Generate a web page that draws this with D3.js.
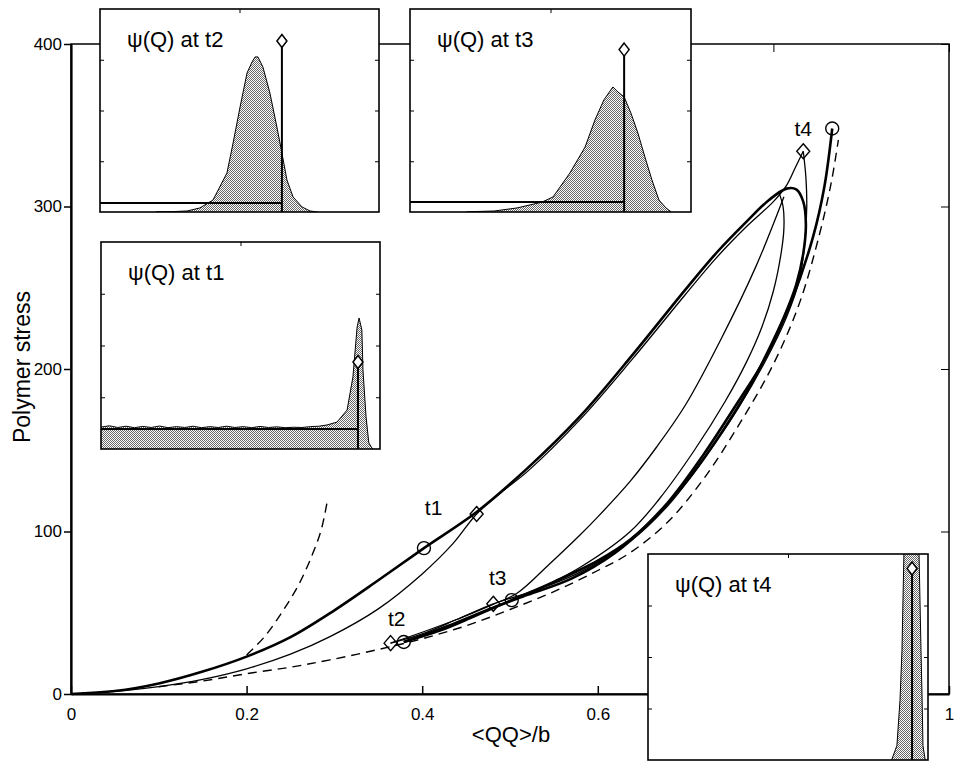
<!DOCTYPE html>
<html><head><meta charset="utf-8">
<script src="https://cdn.jsdelivr.net/npm/d3@7"></script>
<style>
body{margin:0;background:#fff}
svg{display:block}
text{font-family:"Liberation Sans", Arial, Helvetica, sans-serif;fill:#000}
</style>
</head><body>
<svg id="chart" width="954" height="762"></svg>
<script>
// ---------------- data ----------------
const xTickValues = [0, 0.2, 0.4, 0.6, 0.8, 1];
const xTickLabels = ["0", "0.2", "0.4", "0.6", "0.8", "1"];
const yTickValues = [0, 100, 200, 300, 400];
const yTickLabels = ["0", "100", "200", "300", "400"];
const xAxisTitle = "<QQ>/b";
const yAxisTitle = "Polymer stress";

// main curves: [<QQ>/b, stress]
const upperThick = [[0,0],[0.05,1.8],[0.1,6.5],[0.15,13.8],[0.2,23],[0.25,35],[0.3,51.5],[0.35,70],[0.402,89.8],[0.462,112],[0.52,139],[0.58,171],[0.64,209],[0.70,249],[0.736,272],[0.77,291],[0.795,304],[0.815,311],[0.826,310.5],[0.834,303],[0.837,289],[0.834,271],[0.826,252],[0.812,232],[0.793,210],[0.77,186],[0.74,160],[0.70,130],[0.66,106],[0.62,87],[0.57,71],[0.52,61],[0.48,53],[0.43,42],[0.40,36],[0.379,32]];
const reextThick = [[0.379,32],[0.42,39],[0.46,48],[0.502,57.8],[0.55,69],[0.60,82],[0.637,95],[0.68,118],[0.72,147],[0.76,180],[0.79,206],[0.82,241],[0.845,281],[0.858,312],[0.867,348]];
const lowerThin = [[0,0],[0.05,1.6],[0.1,4.5],[0.15,9],[0.2,15.5],[0.25,24.5],[0.295,35.3],[0.35,52.4],[0.40,73.9],[0.435,92.5],[0.462,110.8],[0.49,124],[0.52,137],[0.58,169],[0.64,206.5],[0.70,246],[0.736,269],[0.77,288],[0.80,303],[0.815,313],[0.825,324],[0.834,334]];
const relaxThinStraight = [[0.812,306],[0.78,263],[0.74,218],[0.70,178],[0.667,152],[0.637,131],[0.60,109],[0.58,98],[0.545,80],[0.508,62],[0.48,55],[0.44,46],[0.40,38],[0.364,31.3]];
const relaxThinInner = [[0.806,309],[0.811,300],[0.812,287],[0.809,272],[0.80,248],[0.787,226],[0.77,205],[0.745,180],[0.71,150],[0.67,120],[0.637,100],[0.58,78],[0.53,64],[0.50,57]];
const reextThin = [[0.364,31.3],[0.40,37],[0.44,46],[0.481,55.5],[0.53,64],[0.58,75],[0.637,94],[0.68,116],[0.72,144],[0.76,176],[0.79,204],[0.815,232],[0.83,256],[0.836,280],[0.838,300],[0.837,318],[0.834,334]];
const dashedShort = [[0.2,24],[0.22,35],[0.24,50],[0.26,68],[0.275,86],[0.285,101],[0.292,119]];
const dashedLong = [[0.1,4.5],[0.15,8],[0.2,12.5],[0.25,16.5],[0.295,21],[0.355,28],[0.40,34],[0.45,42],[0.5,52],[0.55,63],[0.60,76],[0.637,87],[0.68,106],[0.72,132],[0.76,165],[0.80,203],[0.83,241],[0.853,284],[0.866,315],[0.874,341]];

// time markers
const circleMarkers = [[0.402,89.8],[0.379,32],[0.502,57.8],[0.867,348]];
const diamondMarkers = [[0.462,110.8],[0.364,31.3],[0.481,55.5],[0.834,334]];
const timeLabels = ["t1","t2","t3","t4"];
const timeLabelPos = [[0.413,114.5],[0.371,46.8],[0.486,72],[0.834,348.3]];

// insets: distribution psi(Q) (fractions of inset axes)
const insetTitles = ["ψ(Q) at t1","ψ(Q) at t2","ψ(Q) at t3","ψ(Q) at t4"];
const psiT1 = [[0,0.106],[0.03,0.112],[0.06,0.104],[0.09,0.110],[0.12,0.103],[0.15,0.109],[0.18,0.104],[0.21,0.111],[0.24,0.103],[0.27,0.108],[0.30,0.104],[0.33,0.110],[0.36,0.103],[0.39,0.108],[0.42,0.104],[0.45,0.110],[0.48,0.104],[0.51,0.108],[0.54,0.103],[0.57,0.109],[0.60,0.104],[0.63,0.107],[0.66,0.103],[0.69,0.105],[0.72,0.104],[0.75,0.108],[0.78,0.110],[0.81,0.116],[0.846,0.13],[0.882,0.188],[0.903,0.348],[0.918,0.589],[0.925,0.633],[0.935,0.575],[0.939,0.382],[0.95,0.155],[0.96,0.029],[0.971,0.005],[0.975,0]];
const psiT2 = [[0.2,0.001],[0.26,0.002],[0.312,0.005],[0.358,0.02],[0.405,0.059],[0.455,0.192],[0.477,0.34],[0.502,0.517],[0.527,0.685],[0.545,0.739],[0.556,0.764],[0.566,0.764],[0.584,0.714],[0.609,0.586],[0.634,0.419],[0.652,0.291],[0.670,0.158],[0.692,0.074],[0.724,0.025],[0.753,0.005],[0.78,0]];
const psiT3 = [[0.2,0.001],[0.3,0.005],[0.381,0.02],[0.470,0.049],[0.509,0.074],[0.569,0.192],[0.623,0.32],[0.658,0.453],[0.690,0.552],[0.722,0.616],[0.740,0.591],[0.762,0.567],[0.786,0.488],[0.811,0.389],[0.836,0.271],[0.861,0.158],[0.886,0.059],[0.911,0.02],[0.93,0]];
const psiT4 = [[0.87,0],[0.889,0.07],[0.9,0.29],[0.907,0.53],[0.914,1.0],[0.925,1.4],[0.943,1.6],[0.96,1.4],[0.968,1.0],[0.975,0.53],[0.979,0.29],[0.982,0.07],[0.99,0]];
const insetMeanQ = [0.921, 0.652, 0.762, 0.943];      // vertical line position
const insetMarkerHeight = [0.42, 0.842, 0.80, 0.93];  // diamond height
const insetLevel = [0.097, 0.044, 0.049, null];        // horizontal line height

// ---------------- layout ----------------
const svg = d3.select("#chart");
const M = {left:71, right:949, top:44, bottom:694};
const x = d3.scaleLinear().domain([0,1]).range([M.left, M.right]);
const y = d3.scaleLinear().domain([0,400]).range([M.bottom, M.top]);

const defs = svg.append("defs");
const pat = defs.append("pattern").attr("id","stipple").attr("patternUnits","userSpaceOnUse")
  .attr("width",2).attr("height",2);
pat.append("rect").attr("width",2).attr("height",2).attr("fill","#fff");
pat.append("rect").attr("x",0).attr("y",0).attr("width",1).attr("height",1).attr("fill","#666");
pat.append("rect").attr("x",1).attr("y",1).attr("width",1).attr("height",1).attr("fill","#666");

const main = svg.append("g");
// frame
main.append("rect").attr("x",M.left).attr("y",M.top).attr("width",M.right-M.left).attr("height",M.bottom-M.top)
  .attr("fill","none").attr("stroke","#000").attr("stroke-width",1.5);

// axes via d3
const xAxis = d3.axisBottom(x).tickValues(xTickValues).tickFormat((d,i)=>xTickLabels[i]).tickSizeInner(-8).tickSizeOuter(0).tickPadding(14);
const gx = main.append("g").attr("transform",`translate(0,${M.bottom})`).call(xAxis);
gx.select(".domain").attr("stroke-width",2.2);
gx.selectAll(".tick line").attr("stroke-width",1.5);
gx.selectAll("text").attr("font-size",17).attr("font-family","Liberation Sans, Arial, sans-serif");

const xAxisTop = d3.axisTop(x).tickValues(xTickValues).tickFormat("").tickSizeInner(-8).tickSizeOuter(0);
main.append("g").attr("transform",`translate(0,${M.top})`).call(xAxisTop).call(g=>g.select(".domain").remove());

const yAxis = d3.axisLeft(y).tickValues(yTickValues).tickFormat((d,i)=>yTickLabels[i]).tickSizeInner(7).tickSizeOuter(0).tickPadding(2);
const gy = main.append("g").attr("transform",`translate(${M.left},0)`).call(yAxis);
gy.select(".domain").attr("stroke-width",2.2);
gy.selectAll(".tick line").attr("stroke-width",1.5);
gy.selectAll("text").attr("font-size",17).attr("font-family","Liberation Sans, Arial, sans-serif");

const yAxisRight = d3.axisRight(y).tickValues(yTickValues).tickFormat("").tickSizeInner(-8).tickSizeOuter(0);
main.append("g").attr("transform",`translate(${M.right},0)`).call(yAxisRight).call(g=>g.select(".domain").remove());

// titles
main.append("text").attr("x",511).attr("y",742).attr("text-anchor","middle").attr("font-size",22).text(xAxisTitle);
main.append("text").attr("transform","translate(30,367) rotate(-90)").attr("text-anchor","middle").attr("font-size",23).text(yAxisTitle);

// curves
const line = d3.line().x(d=>x(d[0])).y(d=>y(d[1])).curve(d3.curveCatmullRom.alpha(0.5));
function drawCurve(data, w, dash){
  main.append("path").datum(data).attr("d",line).attr("fill","none").attr("stroke","#000")
    .attr("stroke-width",w).attr("stroke-dasharray",dash||null).attr("stroke-linejoin","round");
}
drawCurve(dashedShort, 1.4, "9,6");
drawCurve(dashedLong, 1.4, "9,6");
drawCurve(lowerThin, 1.3);
drawCurve(relaxThinStraight, 1.3);
drawCurve(relaxThinInner, 1.3);
drawCurve(reextThin, 1.3);
drawCurve(upperThick, 2.6);
drawCurve(reextThick, 2.6);

// markers
main.selectAll(".circ").data(circleMarkers).join("circle").attr("cx",d=>x(d[0])).attr("cy",d=>y(d[1])).attr("r",6.5)
  .attr("fill","none").attr("stroke","#000").attr("stroke-width",1.4);
main.selectAll(".diam").data(diamondMarkers).join("path")
  .attr("d",d=>{const cx=x(d[0]),cy=y(d[1]);return `M${cx},${cy-7.5}L${cx+6.5},${cy}L${cx},${cy+7.5}L${cx-6.5},${cy}Z`;})
  .attr("fill","none").attr("stroke","#000").attr("stroke-width",1.4);
main.selectAll(".tlab").data(timeLabels).join("text").attr("x",(d,i)=>x(timeLabelPos[i][0])).attr("y",(d,i)=>y(timeLabelPos[i][1]))
  .attr("dy","0.36em").attr("text-anchor","middle").attr("font-size",21).text(d=>d);

// ---------------- insets ----------------
const insetBoxes = [
  {x:101,y:242,w:279,h:207},
  {x:100,y:9,w:279,h:203},
  {x:410,y:9,w:281,h:203},
  {x:648,y:554,w:280,h:206}
];
const psiSets = [psiT1, psiT2, psiT3, psiT4];
insetBoxes.forEach((b,i)=>{
  const g = svg.append("g");
  const clipId = "clip"+i;
  defs.append("clipPath").attr("id",clipId).append("rect").attr("x",b.x).attr("y",b.y).attr("width",b.w).attr("height",b.h);
  g.append("rect").attr("x",b.x).attr("y",b.y).attr("width",b.w).attr("height",b.h).attr("fill","#fff");
  const ix = d3.scaleLinear().domain([0,1]).range([b.x,b.x+b.w]);
  const iy = d3.scaleLinear().domain([0,1]).range([b.y+b.h,b.y]);
  const inner = g.append("g").attr("clip-path",`url(#${clipId})`);
  const area = d3.area().x(d=>ix(d[0])).y0(iy(0)).y1(d=>iy(d[1])).curve(d3.curveLinear);
  const ln = d3.line().x(d=>ix(d[0])).y(d=>iy(d[1]));
  inner.append("path").datum(psiSets[i]).attr("d",area).attr("fill","url(#stipple)");
  inner.append("path").datum(psiSets[i]).attr("d",ln).attr("fill","none").attr("stroke","#000").attr("stroke-width",1);
  if(insetLevel[i]!==null){
    inner.append("line").attr("x1",ix(0)).attr("x2",ix(insetMeanQ[i])).attr("y1",iy(insetLevel[i])).attr("y2",iy(insetLevel[i]))
      .attr("stroke","#000").attr("stroke-width",2);
  }
  inner.append("line").attr("x1",ix(insetMeanQ[i])).attr("x2",ix(insetMeanQ[i])).attr("y1",iy(0)).attr("y2",iy(insetMarkerHeight[i]))
    .attr("stroke","#000").attr("stroke-width",2);
  const cx = ix(insetMeanQ[i]), cy = iy(insetMarkerHeight[i]);
  inner.append("path").attr("d",`M${cx},${cy-6.5}L${cx+5},${cy}L${cx},${cy+6.5}L${cx-5},${cy}Z`)
    .attr("fill","#fff").attr("stroke","#000").attr("stroke-width",1.5);
  // inset axes (ticks inward)
  const ax = g.append("g");
  ax.append("g").attr("transform",`translate(0,${b.y})`).call(d3.axisTop(ix).tickValues([0.5]).tickFormat("").tickSizeInner(-4).tickSizeOuter(0)).call(s=>s.select(".domain").remove());
  ax.append("g").attr("transform",`translate(${b.x},0)`).call(d3.axisLeft(iy).tickValues([0.25,0.5,0.75]).tickFormat("").tickSizeInner(-4).tickSizeOuter(0)).call(s=>s.select(".domain").remove());
  ax.append("g").attr("transform",`translate(${b.x+b.w},0)`).call(d3.axisRight(iy).tickValues([0.25,0.5,0.75]).tickFormat("").tickSizeInner(-4).tickSizeOuter(0)).call(s=>s.select(".domain").remove());
  g.append("rect").attr("x",b.x).attr("y",b.y).attr("width",b.w).attr("height",b.h).attr("fill","none").attr("stroke","#000").attr("stroke-width",1.6);
  g.append("text").attr("x",b.x+27).attr("y",b.y+38).attr("font-size",22).text(insetTitles[i]);
});
</script>
</body></html>
